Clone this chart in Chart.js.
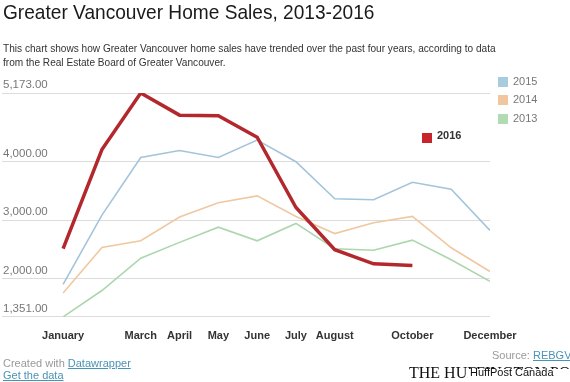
<!DOCTYPE html>
<html><head><meta charset="utf-8">
<script src="https://cdn.jsdelivr.net/npm/chart.js@4"></script>
<style>
html,body{margin:0;padding:0;background:#fff;}
body{width:570px;height:382px;position:relative;overflow:hidden;font-family:"Liberation Sans",Arial,sans-serif;}
#wrap{position:absolute;left:0;top:0;width:570px;height:382px;}
.abs{position:absolute;white-space:nowrap;}
.sq{position:absolute;width:10px;height:10px;}
a{color:#4a93b8;text-decoration:underline;}
</style></head><body>
<div id="wrap"><canvas id="c" width="570" height="382"></canvas></div>
<div class="abs" style="left:3px;top:0px;font-size:21px;color:#1a1a1a;transform:scaleX(0.91);transform-origin:0 0;">Greater Vancouver Home Sales, 2013-2016</div>
<div class="abs" style="left:3px;top:41px;font-size:11px;line-height:14px;color:#333;transform:scaleX(0.918);transform-origin:0 0;">This chart shows how Greater Vancouver home sales have trended over the past four years, according to data<br>from the Real Estate Board of Greater Vancouver.</div>

<div class="sq" style="left:498px;top:77px;background:#a8cbe0;"></div>
<div class="abs" style="left:513px;top:75px;font-size:11px;color:#777;">2015</div>
<div class="sq" style="left:498px;top:95px;background:#f1c59d;"></div>
<div class="abs" style="left:513px;top:93px;font-size:11px;color:#777;">2014</div>
<div class="sq" style="left:498px;top:114px;background:#b3dbb3;"></div>
<div class="abs" style="left:513px;top:112px;font-size:11px;color:#777;">2013</div>

<div class="sq" style="left:422px;top:133px;background:#c9242b;"></div>
<div class="abs" style="left:437px;top:129px;font-size:11px;font-weight:bold;color:#333;">2016</div>

<div class="abs" style="left:3px;top:357px;font-size:11px;color:#999;">Created with <a>Datawrapper</a></div>
<div class="abs" style="left:3px;top:369px;font-size:11px;"><a>Get the data</a></div>
<div class="abs" style="left:492px;top:349px;font-size:11px;color:#999;">Source: <a>REBGV</a></div>
<div class="abs" style="left:409px;top:364px;font-size:16px;font-family:'Liberation Serif',serif;color:#111;">THE HUFFINGTON POST</div>
<div class="abs" style="left:468px;top:369px;width:102px;height:14px;background:#fff;"></div>
<div class="abs" style="left:470px;top:366px;font-size:11px;color:#111;">HuffPost Canada</div>

<script>
const months = ["January","February","March","April","May","June","July","August","September","October","November","December"];
const shownMonths = [0,2,3,4,5,6,7,9,11];
const yTicks = [1351,2000,3000,4000,5173];
const sales2016 = [2514,4206,5173,4795,4785,4417,3217,2498,2255,2227,null,null];
const sales2015 = [1903,3087,4071,4190,4071,4368,4000,3367,3351,3649,3530,2827];
const sales2014 = [1757,2535,2649,3054,3298,3416,3065,2773,2957,3065,2530,2125];
const sales2013 = [1351,1800,2352,2622,2881,2649,2946,2514,2487,2660,2324,1956];

function pts(arr){ return arr.map((v,i)=>({x:i,y:v})).filter(p=>p.y!==null); }
function ds(label, arr, color, w){
  return {label, data:pts(arr), borderColor:color, backgroundColor:color, borderWidth:w,
    pointRadius:0, tension:0, fill:false, borderJoinStyle:'miter', borderCapStyle:'butt'};
}

new Chart(document.getElementById('c'), {
  type:'line',
  data:{datasets:[
    ds('2016', sales2016, '#b3282d', 3.5),
    ds('2015', sales2015, '#a3c4da', 1.6),
    ds('2014', sales2014, '#f0c8a0', 1.6),
    ds('2013', sales2013, '#acd6ad', 1.6)
  ]},
  options:{
    responsive:false, animation:false,
    layout:{padding:{top:93,left:0,right:80,bottom:26}},
    plugins:{legend:{display:false},tooltip:{enabled:false}},
    scales:{
      x:{type:'linear', min:-1.575, max:11,
        grid:{display:false, drawTicks:false}, border:{display:false},
        afterBuildTicks:(s)=>{ s.ticks = shownMonths.map(v=>({value:v})); },
        ticks:{autoSkip:false, maxRotation:0, padding:13, color:'#333',
          font:{family:'"Liberation Sans", Arial, sans-serif', size:11, weight:'bold'},
          callback:(v)=>months[v]}
      },
      y:{type:'linear', min:1351, max:5173,
        grid:{color:'#dcdcdc', lineWidth:1, drawTicks:false}, border:{display:false},
        afterBuildTicks:(s)=>{ s.ticks = yTicks.map(v=>({value:v})); },
        ticks:{mirror:true, padding:1, labelOffset:-8, color:'#777',
          font:{family:'"Liberation Sans", Arial, sans-serif', size:11.5},
          callback:(v)=>Number(v).toLocaleString('en-US',{minimumFractionDigits:2, maximumFractionDigits:2})}
      }
    }
  }
});
</script>
</body></html>
